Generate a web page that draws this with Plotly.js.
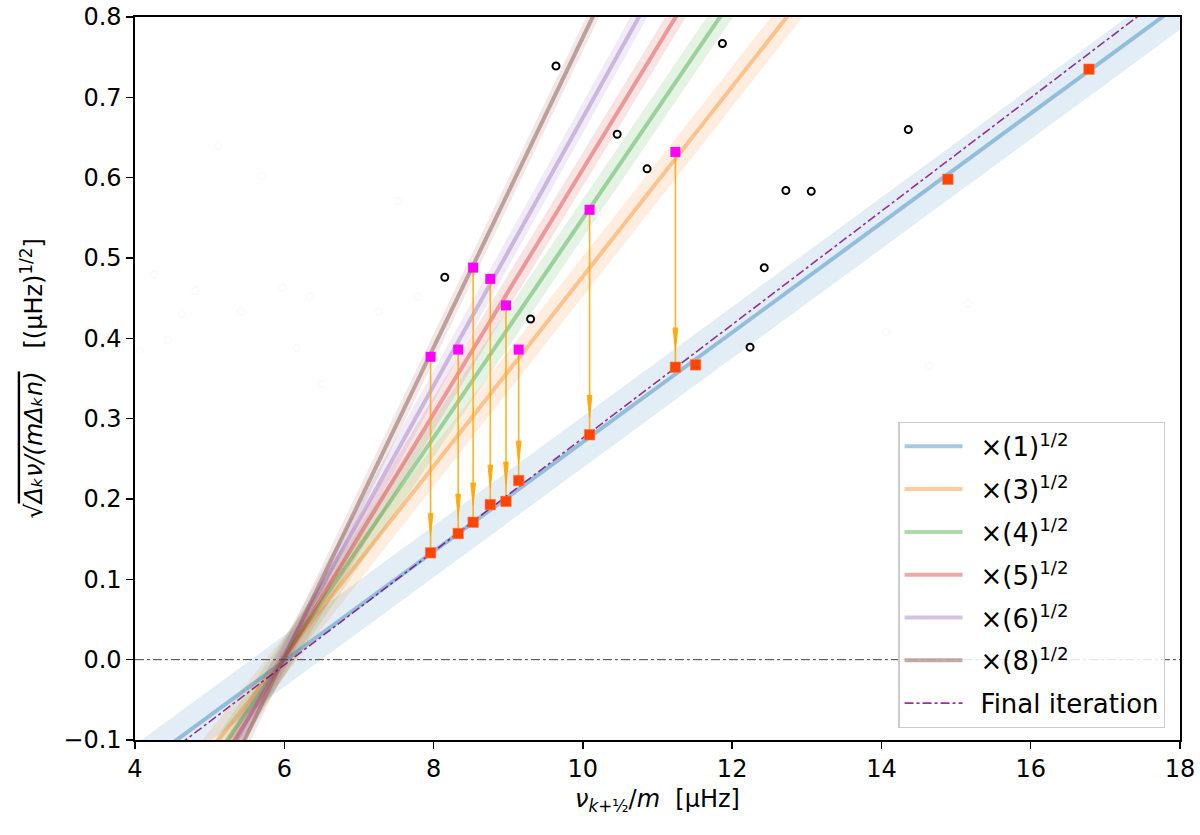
<!DOCTYPE html>
<html>
<head>
<meta charset="utf-8">
<script src="https://cdn.plot.ly/plotly-3.0.1.min.js"></script>
<style>
  html, body { margin: 0; padding: 0; background: #fff; }
  #plot { width: 1200px; height: 835px; }
</style>
</head>
<body>
<div id="plot"></div>
<script>

// x-corrected points (magenta) and their fitted positions (orange-red)
const magX = [7.96, 8.33, 8.53, 8.76, 8.97, 9.14, 10.09, 11.24];
const magY = [0.377, 0.386, 0.488, 0.474, 0.441, 0.386, 0.560, 0.632];
const redX = [7.96, 8.33, 8.53, 8.76, 8.97, 9.14, 10.09, 11.24, 11.51, 14.89, 16.78];
const redY = [0.133, 0.157, 0.171, 0.193, 0.197, 0.223, 0.280, 0.364, 0.367, 0.598, 0.735];

// rejected points (open black circles)
const circX = [9.64, 8.15, 9.30, 10.46, 10.86, 11.87, 12.24, 12.43, 12.72, 13.06, 14.36];
const circY = [0.739, 0.476, 0.424, 0.654, 0.611, 0.767, 0.389, 0.488, 0.584, 0.583, 0.660];

// almost invisible background circles
const ghostX = [5.12, 5.69, 7.53, 4.25, 4.81, 5.98, 6.34, 7.79, 4.62, 5.42, 7.27, 4.44, 4.07, 6.16, 6.50, 15.16, 14.06, 14.64];
const ghostY = [0.640, 0.602, 0.571, 0.479, 0.459, 0.463, 0.452, 0.452, 0.431, 0.433, 0.433, 0.398, 0.385, 0.388, 0.343, 0.443, 0.408, 0.366];

// scaled lines: x where each line meets y = lineY[0] and y = lineY[1]
const factors = ['1', '3', '4', '5', '6', '8'];
const lineY = [-0.2, 0.9];
const lineXLow = [3.09, 4.27, 4.51, 4.68, 4.76, 4.95];
const lineXHigh = [19.23, 13.58, 12.57, 11.90, 11.35, 10.65];
const bandHalf = [0.032, 0.025, 0.024, 0.021, 0.019, 0.017];
const finalX = [3.26, 18.84];

const xTicks = [4, 6, 8, 10, 12, 14, 16, 18];
const yTicks = [-0.1, 0, 0.1, 0.2, 0.3, 0.4, 0.5, 0.6, 0.7, 0.8];

const PALETTE = [
  [31, 119, 180], [255, 127, 14], [44, 160, 44],
  [214, 39, 40], [148, 103, 189], [140, 86, 75]
];
const FONT = 'DejaVu Sans, sans-serif';
const ARROW_COLOR = 'rgba(255,165,0,0.85)';
const HEAD_OFFSET = 0.021;  // tip of arrow head above the fitted point
const HEAD_LEN = 0.028;
const HEAD_HALF = 0.032;
const PAD = '\u2002';       // gap between legend sample and its label

function rgba(c, a) {
  return `rgba(${c[0]},${c[1]},${c[2]},${a})`;
}

function bandTraces() {
  return factors.map((f, i) => {
    const w = bandHalf[i];
    return {
      type: 'scatter', mode: 'lines',
      x: [lineXLow[i], lineXHigh[i], lineXHigh[i], lineXLow[i], lineXLow[i]],
      y: [lineY[0] - w, lineY[1] - w, lineY[1] + w, lineY[0] + w, lineY[0] - w],
      fill: 'toself', fillcolor: rgba(PALETTE[i], 0.13),
      line: { width: 0 }, hoverinfo: 'skip', showlegend: false
    };
  });
}

function lineTraces() {
  return factors.map((f, i) => ({
    type: 'scatter', mode: 'lines',
    x: [lineXLow[i], lineXHigh[i]], y: lineY,
    name: `${PAD}×(${f})<sup>1/2</sup>`,
    legendgroup: 'g' + i,
    line: { color: rgba(PALETTE[i], i === 5 ? 0.5 : 0.4), width: 4 }
  }));
}

function arrowTraces() {
  const sx = [], sy = [], hx = [], hy = [];
  magX.forEach((x, i) => {
    sx.push(x, x, null);
    sy.push(magY[i], redY[i], null);
    const tip = redY[i] + HEAD_OFFSET;
    hx.push(x, x - HEAD_HALF, x + HEAD_HALF, x, null);
    hy.push(tip, tip + HEAD_LEN, tip + HEAD_LEN, tip, null);
  });
  return [
    { type: 'scatter', mode: 'lines', x: sx, y: sy,
      line: { color: ARROW_COLOR, width: 1.6 }, showlegend: false, hoverinfo: 'skip' },
    { type: 'scatter', mode: 'lines', x: hx, y: hy, fill: 'toself',
      fillcolor: ARROW_COLOR, line: { color: ARROW_COLOR, width: 1 },
      showlegend: false, hoverinfo: 'skip' }
  ];
}

function buildTraces() {
  const final = {
    type: 'scatter', mode: 'lines',
    x: finalX, y: lineY, name: PAD + 'Final iteration',
    legendgroup: 'g6',
    line: { color: 'rgba(128,0,128,0.8)', width: 1.6, dash: 'dashdot' }
  };
  const ghosts = {
    type: 'scatter', mode: 'markers', x: ghostX, y: ghostY, showlegend: false,
    marker: { symbol: 'circle-open', size: 7, color: 'rgba(0,0,0,0.025)', line: { width: 1.5 } }
  };
  const circles = {
    type: 'scatter', mode: 'markers', x: circX, y: circY, showlegend: false,
    marker: { symbol: 'circle-open', size: 7, color: '#000', line: { width: 2 } }
  };
  const mag = {
    type: 'scatter', mode: 'markers', x: magX, y: magY, showlegend: false,
    marker: { symbol: 'square', size: 10, color: '#ff00ff' }
  };
  const red = {
    type: 'scatter', mode: 'markers', x: redX, y: redY, showlegend: false,
    marker: { symbol: 'square', size: 10.5, color: '#ff4500', line: { color: '#ff7a50', width: 0.6 } }
  };
  return [
    ...bandTraces(), ...lineTraces(), ghosts, ...arrowTraces(),
    final, circles, mag, red
  ];
}

function axisBase() {
  return {
    showgrid: false, zeroline: false,
    showline: true, linecolor: '#000', linewidth: 1.6, mirror: true,
    ticks: 'outside', ticklen: 7, tickwidth: 1.4, tickcolor: '#000',
    tickfont: { family: FONT, size: 24, color: '#000' }
  };
}

function buildLayout() {
  return {
    width: 1200, height: 835,
    paper_bgcolor: '#fff', plot_bgcolor: '#fff',
    font: { family: FONT, color: '#000' },
    margin: { l: 135, r: 20, t: 17, b: 95 },
    showlegend: true,
    xaxis: Object.assign(axisBase(), {
      range: [4, 18], tickvals: xTicks,
      title: {
        text: '<i>ν</i><sub><i>k</i>+½</sub>/<i>m</i>  [μHz]',
        font: { family: FONT, size: 24 }, standoff: 8
      }
    }),
    yaxis: Object.assign(axisBase(), {
      range: [-0.1, 0.8], tickvals: yTicks, tickformat: '.1f',
      title: {
        text: '√<span style="text-decoration:overline"><i>Δₖν/(mΔₖn)</i></span>   [(μHz)<sup>1/2</sup>]',
        font: { family: FONT, size: 24 }, standoff: 14
      }
    }),
    shapes: [{
      type: 'line', xref: 'paper', x0: 0, x1: 1, yref: 'y', y0: 0, y1: 0,
      line: { color: '#444', width: 1, dash: 'dashdot' }
    }],
    legend: {
      x: 0.986, y: 0.017, xanchor: 'right', yanchor: 'bottom',
      bgcolor: 'rgba(255,255,255,0.85)', bordercolor: '#cccccc', borderwidth: 1.2,
      font: { family: FONT, size: 26, color: '#000' },
      traceorder: 'grouped', tracegroupgap: 6, itemwidth: 58
    }
  };
}

Plotly.newPlot('plot', buildTraces(), buildLayout(), { displayModeBar: false, staticPlot: true });
</script>
</body>
</html>
